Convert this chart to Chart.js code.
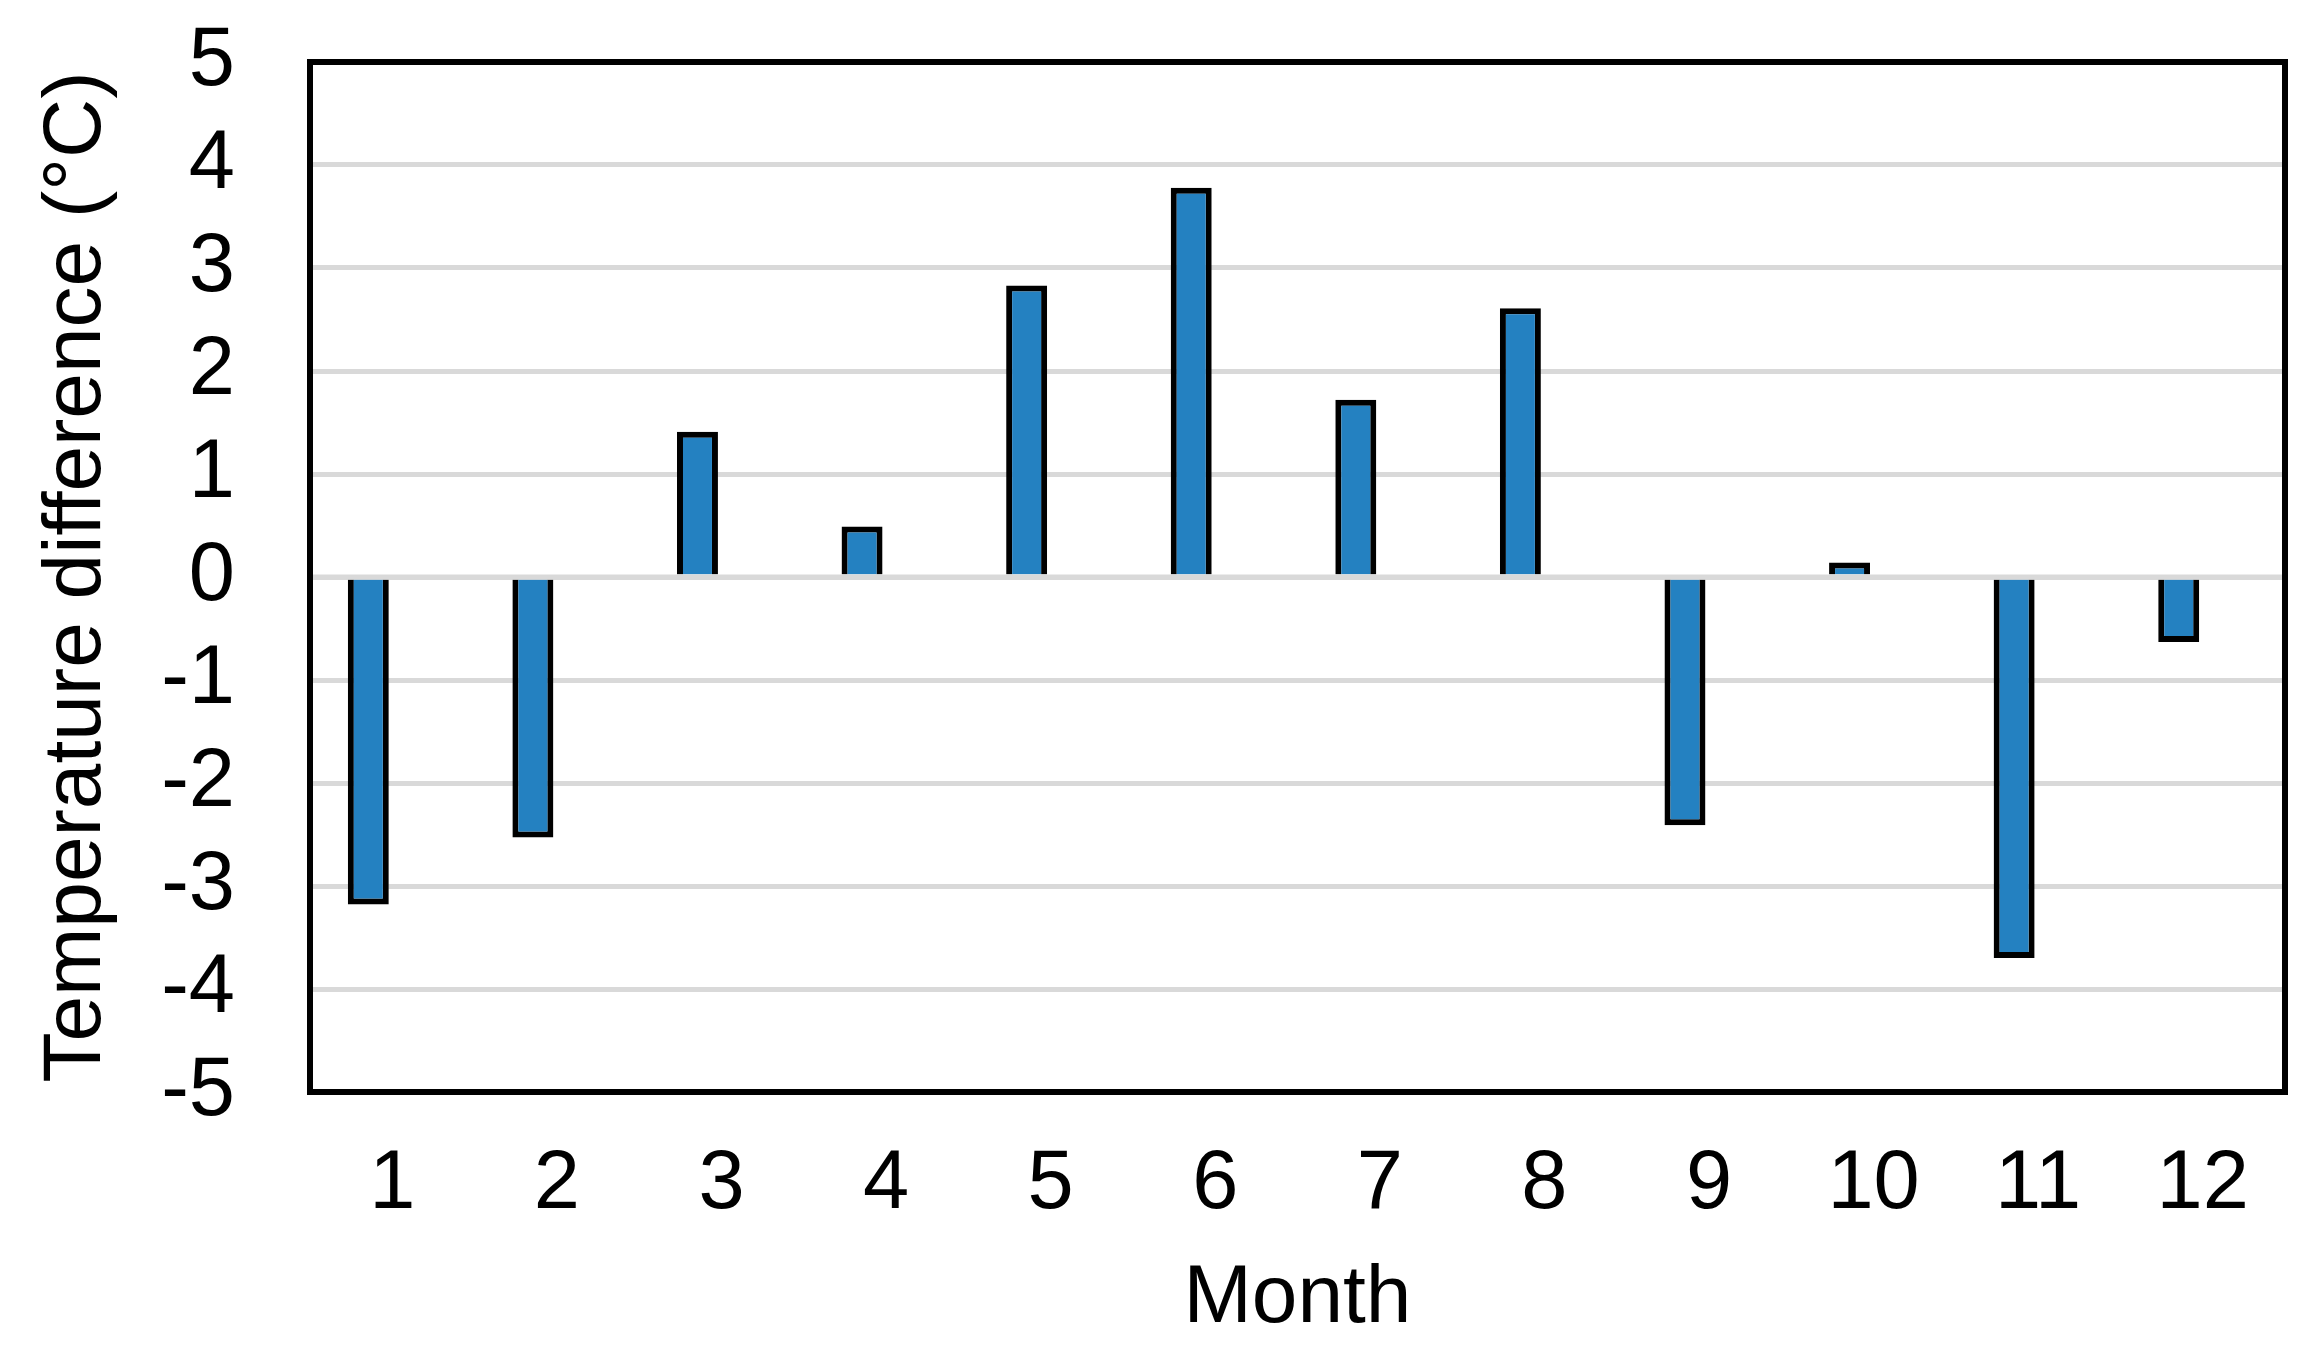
<!DOCTYPE html>
<html>
<head>
  <title>Monthly temperature difference</title>
  <script src="https://cdn.jsdelivr.net/npm/chart.js"></script>
  <style>
    body { margin: 0; background: #fff; }
  </style>
</head>
<body>
  <div style="width:2309px;height:1349px;">
    <canvas id="canvas" width="2309" height="1349"></canvas>
  </div>
  <script>
    var months = ['1', '2', '3', '4', '5', '6', '7', '8', '9', '10', '11', '12'];
    var tempDiff = [-3.18, -2.53, 1.41, 0.49, 2.83, 3.78, 1.72, 2.61, -2.41, 0.14, -3.70, -0.63];
    // second (empty) series, like the spreadsheet the chart came from
    var emptySeries = [null, null, null, null, null, null, null, null, null, null, null, null];
    var yTicks = [-5, -4, -3, -2, -1, 0, 1, 2, 3, 4, 5];

    var fontFamily = '"Liberation Sans", Arial, sans-serif';
    var gridColor = '#d9d9d9';

    // zero line over the bars, then the black frame round the plot
    var framePlugin = {
      id: 'frame',
      afterDatasetsDraw: function(chart) {
        var ctx = chart.ctx;
        var area = chart.chartArea;
        var y0 = chart.scales.y.getPixelForValue(0);
        ctx.save();
        ctx.strokeStyle = gridColor;
        ctx.lineWidth = 5;
        ctx.beginPath();
        ctx.moveTo(area.left - 3, y0);
        ctx.lineTo(area.right, y0);
        ctx.stroke();
        ctx.strokeStyle = '#000';
        ctx.lineWidth = 6;
        ctx.strokeRect(area.left, area.top, area.right - area.left, area.bottom - area.top);
        ctx.restore();
      }
    };

    var ctx = document.getElementById('canvas').getContext('2d');
    var chart = new Chart(ctx, {
      type: 'bar',
      data: {
        labels: months,
        datasets: [{
          label: 'Temperature difference',
          data: tempDiff,
          backgroundColor: '#2481c1',
          borderColor: '#000',
          borderWidth: 6
        }, {
          label: '',
          data: emptySeries
        }]
      },
      options: {
        responsive: false,
        animation: false,
        barPercentage: 0.854,
        categoryPercentage: 0.583,
        layout: { padding: { top: 62, right: 24, left: 0, bottom: 0 } },
        plugins: {
          legend: { display: false },
          tooltip: { enabled: false }
        },
        scales: {
          x: {
            grid: { display: false, drawTicks: false },
            border: { display: false },
            ticks: {
              color: '#000',
              font: { family: fontFamily, size: 83 },
              padding: 43,
              autoSkip: false,
              maxRotation: 0
            },
            title: {
              display: true,
              text: 'Month',
              color: '#000',
              font: { family: fontFamily, size: 82 },
              padding: { top: 0, bottom: 0 }
            },
            afterFit: function(scale) {
              scale.height = 257;
              scale.paddingLeft = 0;
              scale.paddingRight = 0;
            }
          },
          y: {
            min: -5,
            max: 5,
            afterBuildTicks: function(scale) {
              scale.ticks = yTicks.map(function(v) { return { value: v }; });
            },
            grid: { color: gridColor, lineWidth: 5, drawTicks: false },
            border: { display: false },
            ticks: {
              color: '#000',
              font: { family: fontFamily, size: 83 },
              padding: 75,
              autoSkip: false
            },
            title: {
              display: true,
              text: 'Temperature difference (°C)',
              color: '#000',
              font: { family: fontFamily, size: 82 },
              padding: { top: 28, bottom: 0 }
            },
            afterFit: function(scale) {
              scale.width = 310;
              scale.paddingTop = 0;
              scale.paddingBottom = 0;
            }
          }
        }
      },
      plugins: [framePlugin]
    });
  </script>
</body>
</html>
